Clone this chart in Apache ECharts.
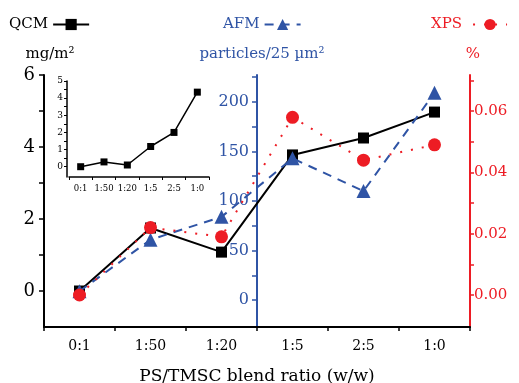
<!DOCTYPE html>
<html><head><meta charset="utf-8">
<script src="https://cdn.jsdelivr.net/npm/echarts@6/dist/echarts.min.js"></script>
<style>html,body{margin:0;padding:0;background:#fff}#c{width:519px;height:383px}</style>
</head><body><div id="c"></div>
<script>
const categories = ['0:1','1:50','1:20','1:5','2:5','1:0'];
const qcm = [0, 1.75, 1.08, 3.78, 4.25, 4.97];
const afm = [9, 61, 84, 143, 110, 209];
const xps = [0.000, 0.022, 0.019, 0.058, 0.044, 0.049];
const insetQcm = [0, 0.28, 0.1, 1.18, 2.0, 4.35];
const qcmTicks = [0, 2, 4, 6];
const afmTicks = [0, 50, 100, 150, 200];
const xpsTicks = [0, 0.02, 0.04, 0.06];
const insetTicks = [0, 1, 2, 3, 4, 5];

const BLACK = '#000000', BLUE = '#2f54a5', RED = '#ed1c24';
const FONT = 'DejaVu Serif';
const chart = echarts.init(document.getElementById('c'));

function range(a, b, s) { const r = []; for (let v = a; v <= b + 1e-9; v += s) r.push(+v.toFixed(4)); return r; }

chart.setOption({
  animation: false,
  textStyle: { fontFamily: FONT },
  title: [
    { text: 'mg/m²', left: 45, top: 42, textAlign: 'center', textStyle: { fontFamily: FONT, fontSize: 15, fontWeight: 'normal', color: BLACK } },
    { text: 'particles/25 µm²', left: 257, top: 42, textAlign: 'center', textStyle: { fontFamily: FONT, fontSize: 15, fontWeight: 'normal', color: BLUE } },
    { text: '%', left: 468, top: 42, textAlign: 'center', textStyle: { fontFamily: FONT, fontSize: 15, fontWeight: 'normal', color: RED } }
  ],
  legend: [
    { data: ['QCM'], left: 4, top: 12, align: 'right', itemWidth: 36, itemHeight: 14, textStyle: { fontFamily: FONT, fontSize: 15, color: BLACK } },
    { data: ['AFM'], left: 218, top: 12, align: 'right', itemWidth: 36, itemHeight: 14, textStyle: { fontFamily: FONT, fontSize: 15, color: BLUE } },
    { data: ['XPS'], left: 426, top: 12, align: 'right', itemWidth: 34, itemHeight: 14, textStyle: { fontFamily: FONT, fontSize: 15, color: RED, padding: [0, 6, 0, 0] } }
  ],
  grid: [
    { left: 44, right: 49, top: 75, bottom: 56, containLabel: false, outerBoundsMode: 'none' },
    { left: 69, top: 81, width: 140, height: 96, containLabel: false, outerBoundsMode: 'none' }
  ],
  xAxis: [
    { type: 'category', data: categories, gridIndex: 0, boundaryGap: true, position: 'bottom',
      axisLine: { onZero: false, lineStyle: { color: BLACK, width: 2 } },
      axisTick: { alignWithLabel: true, length: 4, lineStyle: { color: BLACK, width: 1.5 } },
      axisLabel: { fontFamily: FONT, fontSize: 14, color: BLACK, margin: 12 },
      name: 'PS/TMSC blend ratio (w/w)', nameLocation: 'middle', nameGap: 41,
      nameTextStyle: { fontFamily: FONT, fontSize: 17, color: BLACK } },
    { type: 'value', gridIndex: 0, min: 0, max: 6, interval: 1, position: 'bottom',
      axisLine: { show: false, onZero: false }, axisLabel: { show: false }, splitLine: { show: false },
      axisTick: { show: true, length: 4, lineStyle: { color: BLACK, width: 1.5 } } },
    { type: 'category', data: categories, gridIndex: 1, boundaryGap: true, position: 'bottom',
      axisLine: { onZero: false, lineStyle: { color: BLACK, width: 1.5 } },
      axisTick: { alignWithLabel: true, length: 3, lineStyle: { color: BLACK } },
      axisLabel: { interval: 0, fontFamily: FONT, fontSize: 8.5, color: BLACK, margin: 7 } },
    { type: 'value', gridIndex: 1, min: 0, max: 6, interval: 1, position: 'bottom',
      axisLine: { show: false, onZero: false }, axisLabel: { show: false }, splitLine: { show: false },
      axisTick: { show: true, length: 3, lineStyle: { color: BLACK } } }
  ],
  yAxis: [
    { type: 'value', gridIndex: 0, min: -1, max: 6, position: 'left',
      splitLine: { show: false },
      axisLine: { show: true, onZero: false, lineStyle: { color: BLACK, width: 2 } },
      axisTick: { show: true, length: 5, customValues: range(0, 6, 1), lineStyle: { color: BLACK, width: 1.5 } },
      axisLabel: { customValues: qcmTicks, fontFamily: FONT, fontSize: 18, color: BLACK, margin: 9 } },
    { type: 'value', gridIndex: 0, min: -27, max: 227, position: 'left', offset: -213,
      splitLine: { show: false },
      axisLine: { show: true, onZero: false, lineStyle: { color: BLUE, width: 2 } },
      axisTick: { show: true, length: 5, customValues: range(0, 225, 25), lineStyle: { color: BLUE, width: 1.5 } },
      axisLabel: { customValues: afmTicks, fontFamily: FONT, fontSize: 16, color: BLUE, margin: 8 } },
    { type: 'value', gridIndex: 0, min: -0.01044, max: 0.0718, position: 'right',
      splitLine: { show: false },
      axisLine: { show: true, onZero: false, lineStyle: { color: RED, width: 2 } },
      axisTick: { show: true, length: 4, customValues: range(0, 0.07, 0.01), lineStyle: { color: RED, width: 1.5 } },
      axisLabel: { customValues: xpsTicks, formatter: v => v.toFixed(2), fontFamily: FONT, fontSize: 15, color: RED, margin: 4 } },
    { type: 'value', gridIndex: 1, min: -0.6, max: 5, position: 'left', offset: 2,
      splitLine: { show: false },
      axisLine: { show: true, onZero: false, lineStyle: { color: BLACK, width: 1.5 } },
      axisTick: { show: true, length: 3, customValues: range(0, 5, 0.5), lineStyle: { color: BLACK } },
      axisLabel: { customValues: insetTicks, fontFamily: FONT, fontSize: 9, color: BLACK, margin: 4 } }
  ],
  series: [
    { name: 'QCM', type: 'line', xAxisIndex: 0, yAxisIndex: 0, data: qcm,
      symbol: 'rect', symbolSize: 11, itemStyle: { color: BLACK },
      lineStyle: { color: BLACK, width: 2 }, z: 3 },
    { name: 'AFM', type: 'line', xAxisIndex: 0, yAxisIndex: 1, data: afm,
      symbol: 'triangle', symbolSize: 14, itemStyle: { color: BLUE },
      lineStyle: { color: BLUE, width: 2, type: [9, 7] }, z: 4 },
    { name: 'XPS', type: 'line', xAxisIndex: 0, yAxisIndex: 2, data: xps,
      symbol: 'circle', symbolSize: 13, itemStyle: { color: RED },
      lineStyle: { color: RED, width: 2, type: [2, 9] }, z: 5 },
    { name: 'inset', type: 'line', xAxisIndex: 2, yAxisIndex: 3, data: insetQcm,
      symbol: 'rect', symbolSize: 7, itemStyle: { color: BLACK },
      lineStyle: { color: BLACK, width: 1.5 }, z: 3 }
  ]
});
</script></body></html>
